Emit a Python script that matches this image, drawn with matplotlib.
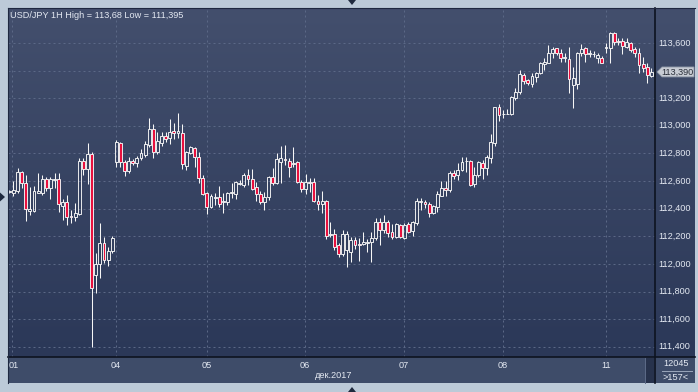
import numpy as np
import matplotlib
matplotlib.use('Agg')
import matplotlib.pyplot as plt
from matplotlib.patches import Polygon, Rectangle
from matplotlib.lines import Line2D

plt.rcParams['font.family'] = ['Liberation Sans', 'DejaVu Sans']

# USD/JPY hourly candles
opens = [112.520, 112.515, 112.528, 112.664, 112.584, 112.386, 112.386, 112.516, 112.516, 112.613,
         112.548, 112.610, 112.613, 112.422, 112.446, 112.345, 112.342, 112.362, 112.745, 112.687,
         112.796, 111.920, 111.997, 112.150, 112.029, 112.096, 112.740, 112.874, 112.740, 112.673,
         112.745, 112.729, 112.765, 112.789, 112.861, 112.975, 112.813, 112.878, 112.926, 112.910,
         112.965, 112.946, 112.946, 112.709, 112.801, 112.837, 112.776, 112.620, 112.511, 112.410,
         112.480, 112.483, 112.449, 112.451, 112.512, 112.506, 112.579, 112.572, 112.644, 112.613,
         112.555, 112.504, 112.451, 112.483, 112.632, 112.584, 112.740, 112.760, 112.745, 112.722,
         112.736, 112.596, 112.541, 112.588, 112.591, 112.458, 112.434, 112.456, 112.207, 112.215,
         112.137, 112.070, 112.101, 112.089, 112.174, 112.146, 112.144, 112.150, 112.157, 112.186,
         112.306, 112.246, 112.306, 112.229, 112.197, 112.282, 112.186, 112.289, 112.236, 112.299,
         112.446, 112.446, 112.434, 112.371, 112.415, 112.494, 112.548, 112.535, 112.656, 112.644,
         112.680, 112.745, 112.745, 112.577, 112.644, 112.729, 112.693, 112.765, 112.874, 113.134,
         113.083, 113.083, 113.083, 113.204, 113.247, 113.368, 113.332, 113.301, 113.352, 113.380,
         113.446, 113.457, 113.525, 113.561, 113.525, 113.489, 113.482, 113.296, 113.301, 113.525,
         113.561, 113.520, 113.522, 113.493, 113.493, 113.561, 113.561, 113.670, 113.614, 113.616,
         113.573, 113.597, 113.554, 113.529, 113.448, 113.424, 113.363]
highs = [112.535, 112.600, 112.697, 112.673, 112.644, 112.559, 112.564, 112.656, 112.644, 112.632,
         112.632, 112.661, 112.661, 112.470, 112.499, 112.391, 112.443, 112.769, 112.769, 112.873,
         112.813, 112.077, 112.294, 112.197, 112.125, 112.202, 112.897, 112.881, 112.753, 112.776,
         112.758, 112.782, 112.830, 112.890, 113.055, 113.011, 112.958, 112.953, 112.958, 113.047,
         113.018, 113.095, 113.011, 112.816, 112.854, 112.849, 112.811, 112.644, 112.523, 112.506,
         112.512, 112.564, 112.516, 112.523, 112.584, 112.601, 112.608, 112.661, 112.685, 112.685,
         112.596, 112.528, 112.523, 112.635, 112.693, 112.805, 112.854, 112.861, 112.765, 112.845,
         112.745, 112.608, 112.651, 112.620, 112.620, 112.499, 112.528, 112.464, 112.306, 112.251,
         112.154, 112.246, 112.239, 112.193, 112.193, 112.186, 112.231, 112.179, 112.229, 112.330,
         112.330, 112.354, 112.318, 112.289, 112.298, 112.289, 112.294, 112.306, 112.311, 112.480,
         112.480, 112.464, 112.446, 112.427, 112.528, 112.601, 112.601, 112.673, 112.680, 112.729,
         112.772, 112.776, 112.753, 112.704, 112.745, 112.753, 112.789, 112.941, 113.139, 113.158,
         113.115, 113.120, 113.216, 113.272, 113.404, 113.385, 113.339, 113.380, 113.388, 113.464,
         113.489, 113.585, 113.573, 113.566, 113.554, 113.530, 113.573, 113.428, 113.537, 113.590,
         113.573, 113.549, 113.544, 113.530, 113.506, 113.598, 113.680, 113.680, 113.634, 113.634,
         113.634, 113.609, 113.569, 113.561, 113.496, 113.453, 113.417]
lows = [112.515, 112.490, 112.512, 112.548, 112.313, 112.354, 112.378, 112.512, 112.501, 112.530,
        112.470, 112.548, 112.378, 112.318, 112.280, 112.294, 112.313, 112.354, 112.644, 112.579,
        111.395, 111.787, 111.900, 112.005, 111.987, 112.082, 112.704, 112.700, 112.639, 112.661,
        112.716, 112.700, 112.753, 112.776, 112.849, 112.769, 112.794, 112.854, 112.885, 112.866,
        112.902, 112.914, 112.687, 112.680, 112.794, 112.704, 112.586, 112.499, 112.365, 112.403,
        112.427, 112.410, 112.372, 112.427, 112.475, 112.470, 112.572, 112.559, 112.572, 112.535,
        112.458, 112.434, 112.391, 112.463, 112.572, 112.577, 112.584, 112.716, 112.632, 112.704,
        112.584, 112.523, 112.504, 112.523, 112.451, 112.391, 112.367, 112.178, 112.197, 112.101,
        112.048, 112.058, 111.976, 112.016, 112.106, 112.021, 112.137, 112.089, 112.016, 112.174,
        112.137, 112.226, 112.193, 112.178, 112.186, 112.186, 112.178, 112.222, 112.202, 112.282,
        112.391, 112.407, 112.342, 112.362, 112.378, 112.494, 112.492, 112.519, 112.615, 112.608,
        112.673, 112.668, 112.564, 112.559, 112.632, 112.615, 112.644, 112.729, 112.856, 113.037,
        113.054, 113.083, 113.078, 113.190, 113.230, 113.303, 113.296, 113.283, 113.319, 113.375,
        113.404, 113.453, 113.489, 113.513, 113.464, 113.464, 113.240, 113.127, 113.265, 113.506,
        113.464, 113.501, 113.496, 113.453, 113.453, 113.530, 113.453, 113.585, 113.585, 113.520,
        113.561, 113.537, 113.501, 113.380, 113.392, 113.312, 113.356]
closes = [112.530, 112.535, 112.664, 112.584, 112.396, 112.398, 112.528, 112.528, 112.613, 112.548,
          112.613, 112.615, 112.432, 112.446, 112.342, 112.340, 112.367, 112.745, 112.687, 112.796,
          111.824, 111.997, 112.150, 112.029, 112.094, 112.190, 112.881, 112.740, 112.673, 112.745,
          112.729, 112.765, 112.801, 112.866, 112.975, 112.813, 112.890, 112.926, 112.907, 112.958,
          112.950, 112.960, 112.724, 112.813, 112.849, 112.776, 112.622, 112.506, 112.410, 112.492,
          112.485, 112.434, 112.454, 112.512, 112.523, 112.591, 112.584, 112.644, 112.613, 112.545,
          112.504, 112.451, 112.487, 112.632, 112.588, 112.758, 112.765, 112.755, 112.704, 112.729,
          112.596, 112.541, 112.596, 112.596, 112.458, 112.434, 112.456, 112.202, 112.215, 112.125,
          112.070, 112.215, 112.215, 112.174, 112.137, 112.137, 112.157, 112.157, 112.186, 112.306,
          112.246, 112.306, 112.222, 112.197, 112.289, 112.193, 112.282, 112.229, 112.306, 112.456,
          112.453, 112.432, 112.371, 112.420, 112.504, 112.548, 112.535, 112.656, 112.639, 112.680,
          112.736, 112.748, 112.572, 112.644, 112.736, 112.697, 112.772, 112.885, 113.134, 113.078,
          113.085, 113.087, 113.207, 113.247, 113.375, 113.327, 113.308, 113.361, 113.380, 113.453,
          113.464, 113.525, 113.556, 113.525, 113.489, 113.496, 113.337, 113.344, 113.529, 113.554,
          113.518, 113.525, 113.518, 113.513, 113.457, 113.573, 113.674, 113.609, 113.605, 113.578,
          113.605, 113.549, 113.525, 113.440, 113.417, 113.368, 113.390]

day_labels = ['01', '04', '05', '06', '07', '08', '11']
day_pos = [0.7, 25.9, 48.0, 71.9, 95.9, 119.9, 145.0]
price_ticks = [111.4, 111.6, 111.8, 112.0, 112.2, 112.4, 112.6, 112.8, 113.0, 113.2, 113.4, 113.6]
title = 'USD/JPY 1H High = 113,68 Low = 111,395'
month_label = 'дек.2017'
bar_count = '12045'
visible_count = '>157<'

W, H = 698, 392
fig = plt.figure(figsize=(W / 100, H / 100), dpi=100)
fig.patch.set_facecolor('#bccad8')


def box(x0, y0, x1, y1):
    return [x0 / W, 1 - y1 / H, (x1 - x0) / W, (y1 - y0) / H]


def frect(x0, y0, x1, y1, color):
    fig.add_artist(Rectangle((x0 / W, 1 - y1 / H), (x1 - x0) / W, (y1 - y0) / H,
                             transform=fig.transFigure, facecolor=color, edgecolor='none'))


def fline(x0, y0, x1, y1, color, lw=1.0):
    fig.add_artist(Line2D([x0 / W, x1 / W], [1 - y0 / H, 1 - y1 / H],
                          transform=fig.transFigure, color=color, lw=lw))


def ftri(pts, color):
    fig.add_artist(Polygon([(x / W, 1 - y / H) for x, y in pts], closed=True,
                           transform=fig.transFigure, facecolor=color, edgecolor='none'))


xlim = (-0.32, 156.9)
ylim = (111.326, 113.853)
txt = '#e4e9f2'
grid_c = '#5b6886'
bear_c = '#e8103e'
wick_c = '#f6f6f6'
fs = 6.6

grad = np.linspace(0, 1, 256).reshape(-1, 1)
bg_cmap = matplotlib.colors.LinearSegmentedColormap.from_list('bg', ['#434f6d', '#2b3858'])

ax = fig.add_axes(box(8, 8, 655, 357))
side = fig.add_axes(box(655, 8, 695, 357))
bot = fig.add_axes(box(8, 357, 655, 383))
corner = fig.add_axes(box(655, 357, 695, 383))

for a in (ax, side):
    a.imshow(grad, cmap=bg_cmap, aspect='auto', extent=(0, 1, 0, 1),
             transform=a.transAxes, zorder=0)
for a in (ax, side, bot, corner):
    a.set_xticks([])
    a.set_yticks([])
    for s in a.spines.values():
        s.set_visible(False)

ax.set_xlim(*xlim)
ax.set_ylim(*ylim)

# grid
ax.hlines(price_ticks, xlim[0], xlim[1], colors=grid_c, lw=0.72, linestyles=(0, (2, 3)), zorder=1)
ax.vlines(day_pos, ylim[0], ylim[1], colors=grid_c, lw=0.72, linestyles=(0, (2, 3)), zorder=1)

# candles
o = np.array(opens)
h = np.array(highs)
l = np.array(lows)
c = np.array(closes)
x = np.arange(len(o))
top = np.maximum(o, c)
bottom = np.minimum(o, c)
bear = c < o
ax.vlines(x, top, h, colors=wick_c, lw=0.75, zorder=2)
ax.vlines(x, l, bottom, colors=wick_c, lw=0.75, zorder=2)
ax.bar(x, np.maximum(top - bottom, 0.003), bottom=bottom, width=0.7,
       color=np.where(bear, bear_c, 'none'), edgecolor=wick_c, linewidth=0.65, zorder=3)

fig.text(10 / W, 1 - 15.5 / H, title, color=txt, fontsize=fs, va='center', ha='left')

# price axis
side.set_xlim(655, 695)
side.set_ylim(*ylim)
last = closes[-1]
for p in price_ticks:
    if abs(p - last) < 0.05:
        continue
    side.text(658, p, f'{p:.3f}'.replace('.', ','), color=txt, fontsize=fs, va='center', ha='left')
side.add_patch(Polygon([(657, last), (662, last + 0.036), (694, last + 0.036),
                        (694, last - 0.036), (662, last - 0.036)], closed=True,
                       facecolor='#c8ccd4', edgecolor='#8d96a6', lw=0.6, zorder=5))
side.text(677.5, last, f'{last:.3f}'.replace('.', ','), color='#2a2f3a', fontsize=fs,
          va='center', ha='center', zorder=6)

# time axis
bot.set_facecolor('#3e4c69')
bot.set_xlim(*xlim)
bot.set_ylim(383, 357)
for i, (pos, lab) in enumerate(zip(day_pos, day_labels)):
    if i == 0:
        bot.text(xlim[0] + 0.25, 365.5, lab, color=txt, fontsize=fs, va='center', ha='left')
    else:
        bot.text(pos, 365.5, lab, color=txt, fontsize=fs, va='center', ha='center')
fig.text(334 / W, 1 - 376 / H, month_label, color=txt, fontsize=fs, va='center', ha='center')

corner.set_facecolor('#3e4c69')
corner.set_xlim(655, 695)
corner.set_ylim(383, 357)
corner.text(676, 364, bar_count, color=txt, fontsize=fs, va='center', ha='center')
corner.plot([662, 692], [370.5, 370.5], color='#9aa6bb', lw=0.7)
corner.text(676, 377.5, visible_count, color=txt, fontsize=fs, va='center', ha='center')

# frame decorations
frect(645, 357.5, 654, 383, '#27324c')
fline(644.5, 357.5, 644.5, 383, '#5d6b88', 0.7)
fline(8, 357, 695, 357, '#0d1320', 1.2)
fline(655, 8, 655, 383, '#0d1320', 1.2)
fline(7.6, 8, 7.6, 383, '#1e2840', 0.8)
fline(8, 7.6, 695, 7.6, '#1e2840', 0.8)
ftri([(348, 0), (356, 0), (352, 5)], '#1f2a3e')
ftri([(348, 392), (356, 392), (352, 387)], '#1f2a3e')
ftri([(0, 192.5), (0, 201.5), (5, 197)], '#1f2a3e')

fig.savefig('out.png', dpi=100, facecolor=fig.get_facecolor())
